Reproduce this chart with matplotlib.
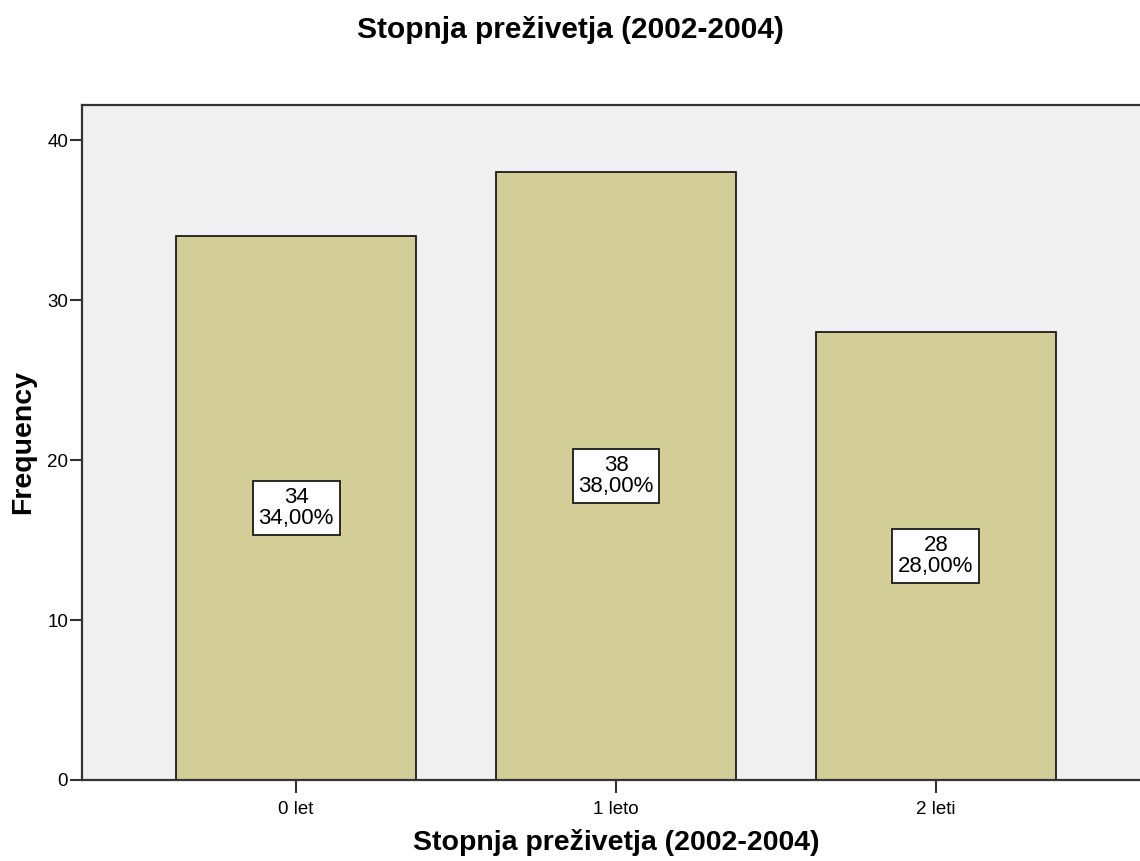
import matplotlib
matplotlib.use('Agg')
import matplotlib.pyplot as plt

plt.rcParams['font.family'] = ['Liberation Sans', 'DejaVu Sans']

categories = ['0 let', '1 leto', '2 leti']
counts = [34, 38, 28]
percents = ['34,00%', '38,00%', '28,00%']

fig = plt.figure(figsize=(11.4, 8.61), dpi=100)
ax = fig.add_axes([82 / 1140, 81 / 861, 1068 / 1140, 675 / 861])
ax.set_facecolor('#f0f0f0')

x = range(len(categories))
ax.bar(x, counts, width=0.75, color='#d3ce98', edgecolor='#1a1a1a', linewidth=1.3, zorder=2)

# value + percent label boxes in the middle of each bar
for xi, c, p in zip(x, counts, percents):
    ax.text(xi, c / 2, '%d\n%s' % (c, p), ha='center', va='center', fontsize=16,
            linespacing=1.05, zorder=3,
            bbox=dict(boxstyle='square,pad=0.26', facecolor='white', edgecolor='#1a1a1a', linewidth=1.3))

ax.set_xlim(-0.669, 2.669)
ax.set_ylim(0, 42.2)
ax.set_yticks([0, 10, 20, 30, 40])
ax.set_xticks(list(x))
ax.set_xticklabels(categories)
ax.tick_params(axis='both', labelsize=13.5, length=9, width=1.5, color='#333333', pad=1)
ax.tick_params(axis='x', pad=6)

for side in ['left', 'bottom', 'top']:
    ax.spines[side].set_linewidth(1.6)
    ax.spines[side].set_color('#333333')
ax.spines['right'].set_visible(False)

ax.set_xlabel('Stopnja preživetja (2002-2004)', fontsize=20.5, fontweight='bold')
ax.set_ylabel('Frequency', fontsize=20.5, fontweight='bold')
ax.xaxis.set_label_coords(0.5, (780 - 843) / 675)
ax.xaxis.label.set_va('center')
ax.yaxis.set_label_coords((23 - 82) / 1068, 0.5)
ax.yaxis.label.set_va('center')
fig.text(0.5, 1 - 30 / 861, 'Stopnja preživetja (2002-2004)', ha='center', va='center',
         fontsize=21.5, fontweight='bold')

fig.savefig('out.png', dpi=100)
